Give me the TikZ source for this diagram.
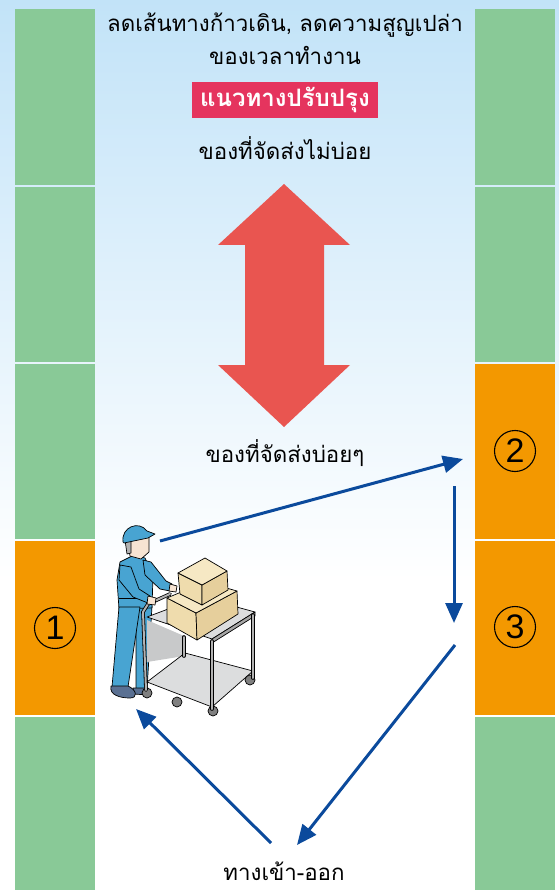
\documentclass[tikz,border=0pt]{standalone}
\usepackage{fontspec}
\setsansfont{Liberation Sans}
\newfontfamily\thai[Script=Thai]{Loma}
\usetikzlibrary{arrows.meta}
\definecolor{shelfgreen}{HTML}{89C997}
\definecolor{shelforange}{HTML}{F39800}
\definecolor{skyblue}{HTML}{C2E3F8}
\definecolor{routeblue}{HTML}{0B4A9C}
\definecolor{alertred}{HTML}{E95550}
\definecolor{tagpink}{HTML}{E5345E}
\definecolor{suitblue}{HTML}{48A4D2}
\definecolor{cartgrey}{HTML}{DCDDDE}
\definecolor{panelgrey}{HTML}{C8C9CA}
\definecolor{boxtop}{HTML}{F6E8C4}
\definecolor{boxfront}{HTML}{EFDCAD}
\definecolor{boxside}{HTML}{E6CF9C}
\definecolor{skin}{HTML}{F7E4D2}
\definecolor{shoe}{HTML}{5A7092}
\tikzset{
  route/.style={routeblue, line width=3pt, -{Triangle[length=20pt,width=17pt]}},
  thaitext/.style={font=\thai\fontsize{22.3}{25}\selectfont, anchor=base, inner sep=0pt},
  slot/.style={circle, draw, line width=1.1pt, minimum size=41pt, inner sep=0pt,
    font=\sffamily\fontsize{34}{34}\selectfont},
  ink/.style={draw=black, line width=0.7pt, line join=round},
  bar/.style={line width=3.6pt, line cap=round},
}
\begin{document}
\begin{tikzpicture}[x=1pt, y=-1pt]
    \useasboundingbox (0,0) rectangle (559,890);
    \fill[white] (0,0) rectangle (559,890);
    \shade[top color=skyblue, bottom color=white] (0,0) rectangle (559,580);

    \foreach \top/\bot/\lc/\rc in {9/185/shelfgreen/shelfgreen,
        187/362/shelfgreen/shelfgreen, 364/539/shelfgreen/shelforange,
        541/715/shelforange/shelforange, 717/890/shelfgreen/shelfgreen}{
      \fill[\lc] (15,\top) rectangle (95,\bot);
      \fill[\rc] (475,\top) rectangle (555,\bot);
    }
    \node[slot] (n1) at (55,628) {1};
    \node[slot] (n2) at (515,451) {2};
    \node[slot] (n3) at (515,627) {3};

    \node[thaitext] (goal) at (285,32) {ลดเส้นทางก้าวเดิน, ลดความสูญเปล่า};
    \node[thaitext] (goal2) at (285,65) {ของเวลาทำงาน};
    \node[fill=tagpink, minimum width=186pt, minimum height=36pt, inner sep=0pt,
      text=white, font=\thai\bfseries\fontsize{24}{26}\selectfont] (tag) at (285,100) {แนวทางปรับปรุง};
    \node[thaitext] (rare) at (285,160) {ของที่จัดส่งไม่บ่อย};
    \node[thaitext] (often) at (285,462) {ของที่จัดส่งบ่อยๆ};
    \node[thaitext] (gate) at (284,880) {ทางเข้า-ออก};

    \fill[alertred] (284,184) -- (350,245) -- (324,245) -- (324,365) -- (350,365)
      -- (284,427) -- (218,365) -- (245,365) -- (245,245) -- (218,245) -- cycle;

    \coordinate (w) at (160,541);
    \coordinate (s2in) at (463,459);
    \coordinate (s2out) at (454,486);
    \coordinate (s3in) at (454,623);
    \coordinate (s3out) at (455,645);
    \coordinate (exin) at (297,845);
    \coordinate (exout) at (271,843);
    \coordinate (win) at (136,709);
    \draw[route] (w) -- (s2in);
    \draw[route] (s2out) -- (s3in);
    \draw[route] (s3out) -- (exin);
    \draw[route] (exout) -- (win);

    \fill[suitblue, ink] (136,606) -- (152,606) -- (147,690) -- (136,690) -- cycle;
    \fill[shoe, ink] (133,688) -- (148,688) -- (149,695) -- (133,694) -- cycle;
    \fill[suitblue, ink] (120,562) -- (134,555) -- (145,558) -- (153,575) -- (152,608)
      -- (119,609) -- (117,580) -- cycle;
    \fill[suitblue, ink] (119,607) -- (140,607) -- (128,687) -- (112,687) -- cycle;
    \fill[shoe, ink] (111,686) -- (128,686) .. controls (137,690) and (138,698) .. (130,698)
      .. controls (120,698) and (109,695) .. cycle;
    \draw[ink] (119,598) -- (151,598);
    \fill[skin, ink] (127,539) -- (149,537) -- (149,552) -- (141,559) -- (130,556) -- cycle;
    \fill[gray!60, ink] (125,540) -- (131,541) -- (131,553) -- (127,554) -- cycle;
    \fill[suitblue, ink] (123,542) .. controls (121,527) and (139,520) .. (147,531)
      -- (155,534) -- (148,538) -- (124,543) -- cycle;

    \fill[panelgrey] (147,620) -- (184,636) -- (184,656) -- (147,662) -- cycle;
    \fill[cartgrey, ink] (147,682) -- (185,653) -- (253,671) -- (212,707) -- cycle;
    \fill[cartgrey, ink] (147,617) -- (200,597) -- (255,612) -- (212,639) -- cycle;
    \draw[ink, fill=gray!70] (212,639) -- (255,612) -- (255,616) -- (212,643) -- cycle;
    \foreach \x/\y in {147/693, 177/702, 213/711, 250/680}{
      \fill[gray, ink] (\x,\y) circle (5);
    }
    \foreach \x/\a/\b in {184/637/656, 212/641/709, 253/615/678}{
      \draw[bar, black] (\x,\a) -- (\x,\b);
      \draw[bar, line width=2pt, gray!60] (\x,\a) -- (\x,\b);
    }
    \draw[bar, black] (146,690) -- (143,612) -- (148,604) -- (170,594);
    \draw[bar, line width=2pt, gray!60] (146,690) -- (143,612) -- (148,604) -- (170,594);

    \fill[boxfront, ink] (167,598) -- (196,613) -- (197,640) -- (167,623) -- cycle;
    \fill[boxside, ink] (196,613) -- (237,591) -- (238,614) -- (197,640) -- cycle;
    \fill[boxtop, ink] (167,598) -- (205,582) -- (237,591) -- (196,613) -- cycle;
    \fill[boxfront, ink] (178,573) -- (202,585) -- (202,605) -- (180,594) -- cycle;
    \fill[boxside, ink] (202,585) -- (227,571) -- (228,590) -- (202,605) -- cycle;
    \fill[boxtop, ink] (178,573) -- (205,558) -- (227,571) -- (202,585) -- cycle;

    \fill[suitblue, ink] (143,560) -- (151,562) -- (166,581) -- (172,584) -- (170,591)
      -- (160,589) -- (145,575) -- cycle;
    \fill[skin, ink] (170,584) -- (177,586) -- (176,592) -- (169,591) -- cycle;
    \fill[suitblue, ink] (120,565) -- (131,567) -- (139,589) -- (150,596) -- (148,603)
      -- (133,597) -- (119,580) -- cycle;
    \fill[skin, ink] (148,596) -- (156,598) -- (155,605) -- (147,604) -- cycle;
\end{tikzpicture}
\end{document}
